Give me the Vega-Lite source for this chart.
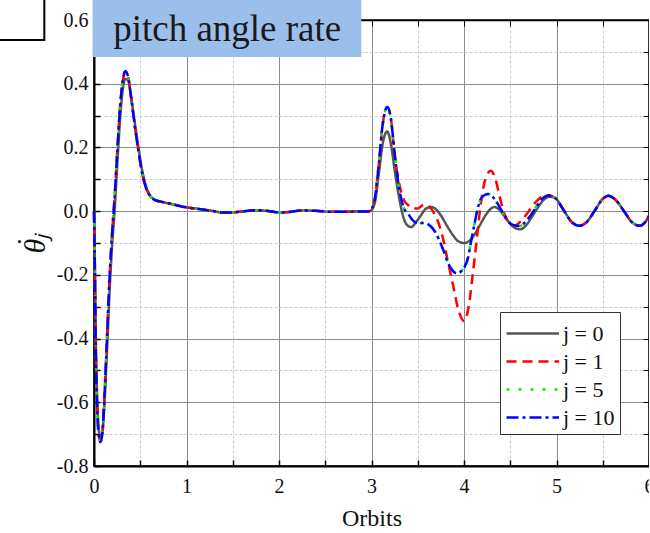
{
  "$schema": "https://vega.github.io/schema/vega-lite/v6.json",
  "width": 555,
  "height": 446,
  "autosize": {"type": "none"},
  "padding": {"left": 94, "top": 20, "right": 0, "bottom": 67},
  "background": "white",
  "config": {
    "font": "Liberation Serif",
    "view": {"stroke": "#000", "strokeWidth": 1.5}
  },
  "data": {"values": [
    {"t":0,"v":0,"j":"j = 0"},{"t":0.01,"v":-0.17,"j":"j = 0"},{"t":0.02,"v":-0.41,"j":"j = 0"},{"t":0.035,"v":-0.59,"j":"j = 0"},{"t":0.05,"v":-0.68,"j":"j = 0"},{"t":0.07,"v":-0.71,"j":"j = 0"},{"t":0.09,"v":-0.695,"j":"j = 0"},{"t":0.11,"v":-0.62,"j":"j = 0"},{"t":0.14,"v":-0.44,"j":"j = 0"},{"t":0.17,"v":-0.24,"j":"j = 0"},{"t":0.2,"v":-0.09,"j":"j = 0"},{"t":0.22,"v":-0.01,"j":"j = 0"},{"t":0.25,"v":0.14,"j":"j = 0"},{"t":0.28,"v":0.28,"j":"j = 0"},{"t":0.31,"v":0.38,"j":"j = 0"},{"t":0.34,"v":0.415,"j":"j = 0"},{"t":0.37,"v":0.41,"j":"j = 0"},{"t":0.4,"v":0.36,"j":"j = 0"},{"t":0.44,"v":0.28,"j":"j = 0"},{"t":0.48,"v":0.2,"j":"j = 0"},{"t":0.52,"v":0.13,"j":"j = 0"},{"t":0.56,"v":0.08,"j":"j = 0"},{"t":0.6,"v":0.052,"j":"j = 0"},{"t":0.65,"v":0.037,"j":"j = 0"},
    {"t":0.72,"v":0.03,"j":"j = 0"},{"t":0.8,"v":0.025,"j":"j = 0"},{"t":0.9,"v":0.018,"j":"j = 0"},{"t":1.0,"v":0.012,"j":"j = 0"},{"t":1.1,"v":0.008,"j":"j = 0"},{"t":1.25,"v":0.002,"j":"j = 0"},{"t":1.4,"v":-0.004,"j":"j = 0"},{"t":1.5,"v":-0.004,"j":"j = 0"},{"t":1.6,"v":-0.001,"j":"j = 0"},{"t":1.75,"v":0.003,"j":"j = 0"},{"t":1.9,"v":0.0,"j":"j = 0"},{"t":2.0,"v":-0.004,"j":"j = 0"},{"t":2.1,"v":-0.003,"j":"j = 0"},{"t":2.25,"v":0.002,"j":"j = 0"},{"t":2.4,"v":0.001,"j":"j = 0"},{"t":2.55,"v":-0.002,"j":"j = 0"},{"t":2.7,"v":-0.002,"j":"j = 0"},{"t":2.85,"v":-0.001,"j":"j = 0"},{"t":2.98,"v":0.0,"j":"j = 0"},
    {"t":3.03,"v":0.02,"j":"j = 0"},{"t":3.08,"v":0.12,"j":"j = 0"},{"t":3.12,"v":0.21,"j":"j = 0"},{"t":3.17,"v":0.25,"j":"j = 0"},{"t":3.21,"v":0.21,"j":"j = 0"},{"t":3.25,"v":0.13,"j":"j = 0"},{"t":3.3,"v":0.04,"j":"j = 0"},{"t":3.35,"v":-0.024,"j":"j = 0"},{"t":3.39,"v":-0.045,"j":"j = 0"},{"t":3.43,"v":-0.05,"j":"j = 0"},{"t":3.48,"v":-0.035,"j":"j = 0"},{"t":3.53,"v":-0.015,"j":"j = 0"},{"t":3.59,"v":0.008,"j":"j = 0"},{"t":3.65,"v":0.013,"j":"j = 0"},{"t":3.7,"v":0.005,"j":"j = 0"},{"t":3.76,"v":-0.018,"j":"j = 0"},{"t":3.82,"v":-0.048,"j":"j = 0"},{"t":3.88,"v":-0.075,"j":"j = 0"},{"t":3.94,"v":-0.095,"j":"j = 0"},{"t":4.0,"v":-0.1,"j":"j = 0"},{"t":4.06,"v":-0.093,"j":"j = 0"},{"t":4.11,"v":-0.075,"j":"j = 0"},{"t":4.17,"v":-0.045,"j":"j = 0"},{"t":4.22,"v":-0.019,"j":"j = 0"},{"t":4.28,"v":0.005,"j":"j = 0"},{"t":4.33,"v":0.013,"j":"j = 0"},{"t":4.38,"v":0.005,"j":"j = 0"},{"t":4.44,"v":-0.017,"j":"j = 0"},{"t":4.5,"v":-0.04,"j":"j = 0"},{"t":4.56,"v":-0.054,"j":"j = 0"},{"t":4.61,"v":-0.057,"j":"j = 0"},{"t":4.67,"v":-0.045,"j":"j = 0"},{"t":4.73,"v":-0.02,"j":"j = 0"},{"t":4.8,"v":0.012,"j":"j = 0"},{"t":4.86,"v":0.035,"j":"j = 0"},{"t":4.92,"v":0.045,"j":"j = 0"},{"t":4.98,"v":0.042,"j":"j = 0"},
    {"t":5.08,"v":0.002,"j":"j = 0"},{"t":5.16,"v":-0.033,"j":"j = 0"},{"t":5.25,"v":-0.046,"j":"j = 0"},{"t":5.33,"v":-0.033,"j":"j = 0"},{"t":5.41,"v":0.0,"j":"j = 0"},{"t":5.49,"v":0.035,"j":"j = 0"},{"t":5.56,"v":0.048,"j":"j = 0"},{"t":5.64,"v":0.035,"j":"j = 0"},{"t":5.73,"v":0.0,"j":"j = 0"},{"t":5.81,"v":-0.033,"j":"j = 0"},{"t":5.9,"v":-0.046,"j":"j = 0"},{"t":5.97,"v":-0.03,"j":"j = 0"},{"t":6.0,"v":-0.015,"j":"j = 0"},

    {"t":0,"v":0,"j":"j = 1"},{"t":0.01,"v":-0.2,"j":"j = 1"},{"t":0.02,"v":-0.45,"j":"j = 1"},{"t":0.035,"v":-0.62,"j":"j = 1"},{"t":0.05,"v":-0.7,"j":"j = 1"},{"t":0.07,"v":-0.725,"j":"j = 1"},{"t":0.09,"v":-0.7,"j":"j = 1"},{"t":0.11,"v":-0.6,"j":"j = 1"},{"t":0.14,"v":-0.4,"j":"j = 1"},{"t":0.17,"v":-0.2,"j":"j = 1"},{"t":0.2,"v":-0.05,"j":"j = 1"},{"t":0.22,"v":0.03,"j":"j = 1"},{"t":0.25,"v":0.18,"j":"j = 1"},{"t":0.28,"v":0.32,"j":"j = 1"},{"t":0.31,"v":0.405,"j":"j = 1"},{"t":0.34,"v":0.435,"j":"j = 1"},{"t":0.37,"v":0.42,"j":"j = 1"},{"t":0.4,"v":0.36,"j":"j = 1"},{"t":0.44,"v":0.27,"j":"j = 1"},{"t":0.48,"v":0.19,"j":"j = 1"},{"t":0.52,"v":0.12,"j":"j = 1"},{"t":0.56,"v":0.075,"j":"j = 1"},{"t":0.6,"v":0.05,"j":"j = 1"},{"t":0.65,"v":0.036,"j":"j = 1"},
    {"t":0.72,"v":0.03,"j":"j = 1"},{"t":0.8,"v":0.025,"j":"j = 1"},{"t":0.9,"v":0.018,"j":"j = 1"},{"t":1.0,"v":0.012,"j":"j = 1"},{"t":1.1,"v":0.008,"j":"j = 1"},{"t":1.25,"v":0.002,"j":"j = 1"},{"t":1.4,"v":-0.004,"j":"j = 1"},{"t":1.5,"v":-0.004,"j":"j = 1"},{"t":1.6,"v":-0.001,"j":"j = 1"},{"t":1.75,"v":0.003,"j":"j = 1"},{"t":1.9,"v":0.0,"j":"j = 1"},{"t":2.0,"v":-0.004,"j":"j = 1"},{"t":2.1,"v":-0.003,"j":"j = 1"},{"t":2.25,"v":0.002,"j":"j = 1"},{"t":2.4,"v":0.001,"j":"j = 1"},{"t":2.55,"v":-0.002,"j":"j = 1"},{"t":2.7,"v":-0.002,"j":"j = 1"},{"t":2.85,"v":-0.001,"j":"j = 1"},{"t":2.98,"v":0.0,"j":"j = 1"},
    {"t":3.03,"v":0.03,"j":"j = 1"},{"t":3.08,"v":0.15,"j":"j = 1"},{"t":3.12,"v":0.27,"j":"j = 1"},{"t":3.17,"v":0.327,"j":"j = 1"},{"t":3.21,"v":0.29,"j":"j = 1"},{"t":3.25,"v":0.18,"j":"j = 1"},{"t":3.3,"v":0.085,"j":"j = 1"},{"t":3.35,"v":0.035,"j":"j = 1"},{"t":3.4,"v":0.018,"j":"j = 1"},{"t":3.45,"v":0.008,"j":"j = 1"},{"t":3.5,"v":0.008,"j":"j = 1"},{"t":3.55,"v":0.018,"j":"j = 1"},{"t":3.59,"v":0.021,"j":"j = 1"},{"t":3.64,"v":0.01,"j":"j = 1"},{"t":3.7,"v":-0.02,"j":"j = 1"},{"t":3.76,"v":-0.07,"j":"j = 1"},{"t":3.82,"v":-0.15,"j":"j = 1"},{"t":3.88,"v":-0.23,"j":"j = 1"},{"t":3.94,"v":-0.31,"j":"j = 1"},{"t":4.0,"v":-0.345,"j":"j = 1"},{"t":4.05,"v":-0.3,"j":"j = 1"},{"t":4.09,"v":-0.21,"j":"j = 1"},{"t":4.13,"v":-0.11,"j":"j = 1"},{"t":4.18,"v":0.02,"j":"j = 1"},{"t":4.23,"v":0.1,"j":"j = 1"},{"t":4.29,"v":0.127,"j":"j = 1"},{"t":4.34,"v":0.1,"j":"j = 1"},{"t":4.39,"v":0.04,"j":"j = 1"},{"t":4.44,"v":-0.01,"j":"j = 1"},{"t":4.5,"v":-0.04,"j":"j = 1"},{"t":4.55,"v":-0.045,"j":"j = 1"},{"t":4.62,"v":-0.03,"j":"j = 1"},{"t":4.7,"v":0.0,"j":"j = 1"},{"t":4.78,"v":0.03,"j":"j = 1"},{"t":4.86,"v":0.048,"j":"j = 1"},{"t":4.92,"v":0.05,"j":"j = 1"},{"t":4.99,"v":0.04,"j":"j = 1"},
    {"t":5.08,"v":0.002,"j":"j = 1"},{"t":5.16,"v":-0.033,"j":"j = 1"},{"t":5.25,"v":-0.046,"j":"j = 1"},{"t":5.33,"v":-0.033,"j":"j = 1"},{"t":5.41,"v":0.0,"j":"j = 1"},{"t":5.49,"v":0.035,"j":"j = 1"},{"t":5.56,"v":0.048,"j":"j = 1"},{"t":5.64,"v":0.035,"j":"j = 1"},{"t":5.73,"v":0.0,"j":"j = 1"},{"t":5.81,"v":-0.033,"j":"j = 1"},{"t":5.9,"v":-0.046,"j":"j = 1"},{"t":5.97,"v":-0.03,"j":"j = 1"},{"t":6.0,"v":-0.015,"j":"j = 1"},

    {"t":0,"v":0,"j":"j = 5"},{"t":0.01,"v":-0.2,"j":"j = 5"},{"t":0.02,"v":-0.45,"j":"j = 5"},{"t":0.035,"v":-0.62,"j":"j = 5"},{"t":0.05,"v":-0.7,"j":"j = 5"},{"t":0.07,"v":-0.725,"j":"j = 5"},{"t":0.09,"v":-0.7,"j":"j = 5"},{"t":0.11,"v":-0.6,"j":"j = 5"},{"t":0.14,"v":-0.4,"j":"j = 5"},{"t":0.17,"v":-0.2,"j":"j = 5"},{"t":0.2,"v":-0.05,"j":"j = 5"},{"t":0.22,"v":0.03,"j":"j = 5"},{"t":0.25,"v":0.18,"j":"j = 5"},{"t":0.28,"v":0.32,"j":"j = 5"},{"t":0.31,"v":0.41,"j":"j = 5"},{"t":0.34,"v":0.44,"j":"j = 5"},{"t":0.37,"v":0.42,"j":"j = 5"},{"t":0.4,"v":0.36,"j":"j = 5"},{"t":0.44,"v":0.27,"j":"j = 5"},{"t":0.48,"v":0.19,"j":"j = 5"},{"t":0.52,"v":0.12,"j":"j = 5"},{"t":0.56,"v":0.075,"j":"j = 5"},{"t":0.6,"v":0.05,"j":"j = 5"},{"t":0.65,"v":0.036,"j":"j = 5"},
    {"t":0.72,"v":0.03,"j":"j = 5"},{"t":0.8,"v":0.025,"j":"j = 5"},{"t":0.9,"v":0.018,"j":"j = 5"},{"t":1.0,"v":0.012,"j":"j = 5"},{"t":1.1,"v":0.008,"j":"j = 5"},{"t":1.25,"v":0.002,"j":"j = 5"},{"t":1.4,"v":-0.004,"j":"j = 5"},{"t":1.5,"v":-0.004,"j":"j = 5"},{"t":1.6,"v":-0.001,"j":"j = 5"},{"t":1.75,"v":0.003,"j":"j = 5"},{"t":1.9,"v":0.0,"j":"j = 5"},{"t":2.0,"v":-0.004,"j":"j = 5"},{"t":2.1,"v":-0.003,"j":"j = 5"},{"t":2.25,"v":0.002,"j":"j = 5"},{"t":2.4,"v":0.001,"j":"j = 5"},{"t":2.55,"v":-0.002,"j":"j = 5"},{"t":2.7,"v":-0.002,"j":"j = 5"},{"t":2.85,"v":-0.001,"j":"j = 5"},{"t":2.98,"v":0.0,"j":"j = 5"},
    {"t":3.03,"v":0.03,"j":"j = 5"},{"t":3.08,"v":0.15,"j":"j = 5"},{"t":3.12,"v":0.27,"j":"j = 5"},{"t":3.17,"v":0.327,"j":"j = 5"},{"t":3.21,"v":0.29,"j":"j = 5"},{"t":3.25,"v":0.18,"j":"j = 5"},{"t":3.3,"v":0.07,"j":"j = 5"},{"t":3.35,"v":0.01,"j":"j = 5"},{"t":3.4,"v":-0.01,"j":"j = 5"},{"t":3.45,"v":-0.03,"j":"j = 5"},{"t":3.5,"v":-0.038,"j":"j = 5"},{"t":3.57,"v":-0.037,"j":"j = 5"},{"t":3.63,"v":-0.045,"j":"j = 5"},{"t":3.69,"v":-0.066,"j":"j = 5"},{"t":3.76,"v":-0.11,"j":"j = 5"},{"t":3.84,"v":-0.17,"j":"j = 5"},{"t":3.93,"v":-0.196,"j":"j = 5"},{"t":3.98,"v":-0.185,"j":"j = 5"},{"t":4.04,"v":-0.15,"j":"j = 5"},{"t":4.08,"v":-0.09,"j":"j = 5"},{"t":4.11,"v":-0.045,"j":"j = 5"},{"t":4.15,"v":0.01,"j":"j = 5"},{"t":4.19,"v":0.042,"j":"j = 5"},{"t":4.26,"v":0.054,"j":"j = 5"},{"t":4.31,"v":0.045,"j":"j = 5"},{"t":4.36,"v":0.025,"j":"j = 5"},{"t":4.42,"v":-0.005,"j":"j = 5"},{"t":4.47,"v":-0.03,"j":"j = 5"},{"t":4.53,"v":-0.043,"j":"j = 5"},{"t":4.6,"v":-0.047,"j":"j = 5"},{"t":4.66,"v":-0.035,"j":"j = 5"},{"t":4.72,"v":-0.014,"j":"j = 5"},{"t":4.8,"v":0.022,"j":"j = 5"},{"t":4.86,"v":0.043,"j":"j = 5"},{"t":4.92,"v":0.049,"j":"j = 5"},{"t":4.99,"v":0.04,"j":"j = 5"},
    {"t":5.08,"v":0.002,"j":"j = 5"},{"t":5.16,"v":-0.033,"j":"j = 5"},{"t":5.25,"v":-0.046,"j":"j = 5"},{"t":5.33,"v":-0.033,"j":"j = 5"},{"t":5.41,"v":0.0,"j":"j = 5"},{"t":5.49,"v":0.035,"j":"j = 5"},{"t":5.56,"v":0.048,"j":"j = 5"},{"t":5.64,"v":0.035,"j":"j = 5"},{"t":5.73,"v":0.0,"j":"j = 5"},{"t":5.81,"v":-0.033,"j":"j = 5"},{"t":5.9,"v":-0.046,"j":"j = 5"},{"t":5.97,"v":-0.03,"j":"j = 5"},{"t":6.0,"v":-0.015,"j":"j = 5"},

    {"t":0,"v":0,"j":"j = 10"},{"t":0.01,"v":-0.2,"j":"j = 10"},{"t":0.02,"v":-0.45,"j":"j = 10"},{"t":0.035,"v":-0.62,"j":"j = 10"},{"t":0.05,"v":-0.7,"j":"j = 10"},{"t":0.07,"v":-0.725,"j":"j = 10"},{"t":0.09,"v":-0.7,"j":"j = 10"},{"t":0.11,"v":-0.6,"j":"j = 10"},{"t":0.14,"v":-0.4,"j":"j = 10"},{"t":0.17,"v":-0.2,"j":"j = 10"},{"t":0.2,"v":-0.05,"j":"j = 10"},{"t":0.22,"v":0.03,"j":"j = 10"},{"t":0.25,"v":0.18,"j":"j = 10"},{"t":0.28,"v":0.32,"j":"j = 10"},{"t":0.31,"v":0.41,"j":"j = 10"},{"t":0.34,"v":0.44,"j":"j = 10"},{"t":0.37,"v":0.42,"j":"j = 10"},{"t":0.4,"v":0.36,"j":"j = 10"},{"t":0.44,"v":0.27,"j":"j = 10"},{"t":0.48,"v":0.19,"j":"j = 10"},{"t":0.52,"v":0.12,"j":"j = 10"},{"t":0.56,"v":0.075,"j":"j = 10"},{"t":0.6,"v":0.05,"j":"j = 10"},{"t":0.65,"v":0.036,"j":"j = 10"},
    {"t":0.72,"v":0.03,"j":"j = 10"},{"t":0.8,"v":0.025,"j":"j = 10"},{"t":0.9,"v":0.018,"j":"j = 10"},{"t":1.0,"v":0.012,"j":"j = 10"},{"t":1.1,"v":0.008,"j":"j = 10"},{"t":1.25,"v":0.002,"j":"j = 10"},{"t":1.4,"v":-0.004,"j":"j = 10"},{"t":1.5,"v":-0.004,"j":"j = 10"},{"t":1.6,"v":-0.001,"j":"j = 10"},{"t":1.75,"v":0.003,"j":"j = 10"},{"t":1.9,"v":0.0,"j":"j = 10"},{"t":2.0,"v":-0.004,"j":"j = 10"},{"t":2.1,"v":-0.003,"j":"j = 10"},{"t":2.25,"v":0.002,"j":"j = 10"},{"t":2.4,"v":0.001,"j":"j = 10"},{"t":2.55,"v":-0.002,"j":"j = 10"},{"t":2.7,"v":-0.002,"j":"j = 10"},{"t":2.85,"v":-0.001,"j":"j = 10"},{"t":2.98,"v":0.0,"j":"j = 10"},
    {"t":3.03,"v":0.03,"j":"j = 10"},{"t":3.08,"v":0.15,"j":"j = 10"},{"t":3.12,"v":0.27,"j":"j = 10"},{"t":3.17,"v":0.327,"j":"j = 10"},{"t":3.21,"v":0.29,"j":"j = 10"},{"t":3.25,"v":0.18,"j":"j = 10"},{"t":3.3,"v":0.07,"j":"j = 10"},{"t":3.35,"v":0.01,"j":"j = 10"},{"t":3.4,"v":-0.01,"j":"j = 10"},{"t":3.45,"v":-0.03,"j":"j = 10"},{"t":3.5,"v":-0.038,"j":"j = 10"},{"t":3.57,"v":-0.037,"j":"j = 10"},{"t":3.63,"v":-0.045,"j":"j = 10"},{"t":3.69,"v":-0.066,"j":"j = 10"},{"t":3.76,"v":-0.11,"j":"j = 10"},{"t":3.84,"v":-0.17,"j":"j = 10"},{"t":3.93,"v":-0.196,"j":"j = 10"},{"t":3.98,"v":-0.185,"j":"j = 10"},{"t":4.04,"v":-0.15,"j":"j = 10"},{"t":4.08,"v":-0.09,"j":"j = 10"},{"t":4.11,"v":-0.045,"j":"j = 10"},{"t":4.15,"v":0.01,"j":"j = 10"},{"t":4.19,"v":0.042,"j":"j = 10"},{"t":4.26,"v":0.054,"j":"j = 10"},{"t":4.31,"v":0.045,"j":"j = 10"},{"t":4.36,"v":0.025,"j":"j = 10"},{"t":4.42,"v":-0.005,"j":"j = 10"},{"t":4.47,"v":-0.03,"j":"j = 10"},{"t":4.53,"v":-0.043,"j":"j = 10"},{"t":4.6,"v":-0.047,"j":"j = 10"},{"t":4.66,"v":-0.035,"j":"j = 10"},{"t":4.72,"v":-0.014,"j":"j = 10"},{"t":4.8,"v":0.022,"j":"j = 10"},{"t":4.86,"v":0.043,"j":"j = 10"},{"t":4.92,"v":0.049,"j":"j = 10"},{"t":4.99,"v":0.04,"j":"j = 10"},
    {"t":5.08,"v":0.002,"j":"j = 10"},{"t":5.16,"v":-0.033,"j":"j = 10"},{"t":5.25,"v":-0.046,"j":"j = 10"},{"t":5.33,"v":-0.033,"j":"j = 10"},{"t":5.41,"v":0.0,"j":"j = 10"},{"t":5.49,"v":0.035,"j":"j = 10"},{"t":5.56,"v":0.048,"j":"j = 10"},{"t":5.64,"v":0.035,"j":"j = 10"},{"t":5.73,"v":0.0,"j":"j = 10"},{"t":5.81,"v":-0.033,"j":"j = 10"},{"t":5.9,"v":-0.046,"j":"j = 10"},{"t":5.97,"v":-0.03,"j":"j = 10"},{"t":6.0,"v":-0.015,"j":"j = 10"}
  ]},
  "layer": [
    {
      "mark": {"type": "line", "interpolate": "monotone", "strokeWidth": 2.5},
      "encoding": {
        "x": {
          "field": "t", "type": "quantitative",
          "scale": {"domain": [0, 6], "nice": false, "zero": false},
          "axis": {
            "title": "Orbits", "titleFontSize": 24, "titleFontWeight": "normal", "titleColor": "#111", "titlePadding": 10,
            "values": [0,0.5,1,1.5,2,2.5,3,3.5,4,4.5,5,5.5,6],
            "labelExpr": "datum.value % 1 === 0 ? format(datum.value, 'd') : ''",
            "labelFontSize": 20, "labelColor": "#111", "labelFlush": false, "labelOverlap": false, "labelPadding": 16,
            "tickSize": -6, "tickColor": "#000", "tickWidth": 1.5,
            "domainColor": "#000", "domainWidth": 2,
            "grid": true,
            "gridColor": {"condition": {"test": "datum.value % 1 !== 0", "value": "#cccccc"}, "value": "#8a8a8a"},
            "gridDash": {"condition": {"test": "datum.value % 1 !== 0", "value": [3, 2]}, "value": []},
            "gridWidth": 1
          }
        },
        "y": {
          "field": "v", "type": "quantitative",
          "scale": {"domain": [-0.8, 0.6], "nice": false, "zero": false},
          "axis": {
            "title": ["\u02d9\u2002\u2002", "\u03b8\u2c7c"], "titleLineHeight": 7, "titleFontSize": 30, "titleFontStyle": "italic", "titleFontWeight": "normal", "titleColor": "#111", "titlePadding": 6,
            "values": [-0.8,-0.7,-0.6,-0.5,-0.4,-0.3,-0.2,-0.1,0,0.1,0.2,0.3,0.4,0.5,0.6],
            "labelExpr": "abs(round(datum.value*10)) % 2 === 0 ? replace(format(datum.value, '.1f'), '\u2212', '-') : ''",
            "labelFontSize": 20, "labelColor": "#111", "labelFlush": false, "labelOverlap": false, "labelPadding": 12,
            "tickSize": -6, "tickColor": "#000", "tickWidth": 1.5,
            "domainColor": "#000", "domainWidth": 2,
            "grid": true,
            "gridColor": {"condition": {"test": "abs(round(datum.value*10)) % 2 === 1", "value": "#cccccc"}, "value": "#8a8a8a"},
            "gridDash": {"condition": {"test": "abs(round(datum.value*10)) % 2 === 1", "value": [3, 2]}, "value": []},
            "gridWidth": 1
          }
        },
        "color": {
          "field": "j", "type": "nominal",
          "scale": {"domain": ["j = 0", "j = 1", "j = 5", "j = 10"], "range": ["#555555", "#ff0000", "#00ee00", "#0000ff"]},
          "legend": {
            "title": null, "orient": "none", "legendX": 406, "legendY": 292,
            "symbolType": "M-1,0L2.5,0", "symbolSize": 900, "symbolStrokeWidth": 2.5,
            "labelFontSize": 22, "labelColor": "#111", "labelOffset": 25,
            "rowPadding": 0, "padding": 5,
            "strokeColor": "#333", "fillColor": "white", "cornerRadius": 0
          }
        },
        "strokeDash": {
          "field": "j", "type": "nominal",
          "scale": {"domain": ["j = 0", "j = 1", "j = 5", "j = 10"], "range": [[1, 0], [10, 6], [3, 9], [12, 4, 3, 4]]},
          "legend": null
        }
      }
    },
    {
      "data": {"values": [{}]},
      "mark": {"type": "rect", "color": "#9bbfeb", "clip": false},
      "encoding": {
        "x": {"datum": -0.016, "type": "quantitative", "axis": {"orient": "top", "title": null, "labels": false, "grid": false, "domainColor": "#000", "domainWidth": 1.5, "tickSize": -6, "tickColor": "#000", "values": [0,0.5,1,1.5,2,2.5,3,3.5,4,4.5,5,5.5,6], "zindex": 0}},
        "x2": {"datum": 2.89},
        "y": {"datum": 0.6625, "type": "quantitative", "axis": {"orient": "right", "title": null, "labels": false, "grid": false, "domainColor": "#000", "domainWidth": 1.5, "tickSize": -6, "tickColor": "#000", "values": [-0.8,-0.7,-0.6,-0.5,-0.4,-0.3,-0.2,-0.1,0,0.1,0.2,0.3,0.4,0.5,0.6], "zindex": 0}},
        "y2": {"datum": 0.484}
      }
    },
    {
      "data": {"values": [{}]},
      "mark": {"type": "rect", "fill": "white", "stroke": "#000", "strokeWidth": 2, "clip": false},
      "encoding": {
        "x": {"datum": -1.1, "type": "quantitative", "axis": null},
        "x2": {"datum": -0.537},
        "y": {"datum": 0.7, "type": "quantitative", "axis": null},
        "y2": {"datum": 0.5375}
      }
    },
    {
      "data": {"values": [{}]},
      "mark": {"type": "text", "text": "pitch angle rate", "fontSize": 37, "fill": "#1a1a1a", "align": "center", "baseline": "middle", "font": "Liberation Serif"},
      "encoding": {
        "x": {"datum": 1.44, "type": "quantitative", "axis": null},
        "y": {"datum": 0.57, "type": "quantitative", "axis": null}
      }
    }
  ],
  "resolve": {"axis": {"x": "independent", "y": "independent"}}
}
